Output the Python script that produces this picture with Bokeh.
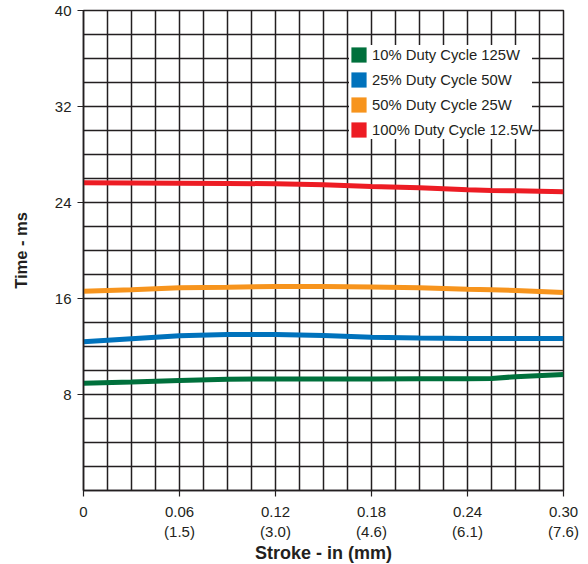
from bokeh.plotting import figure
from bokeh.models import Legend, LegendItem, FixedTicker, SingleIntervalTicker, Range1d
from bokeh.embed import file_html
from bokeh.resources import INLINE

# ---- data ----
stroke_in = [0, 0.03, 0.06, 0.09, 0.12, 0.15, 0.18, 0.21, 0.24, 0.255, 0.27, 0.30]
time_10 = [8.94, 9.05, 9.17, 9.27, 9.30, 9.30, 9.30, 9.31, 9.32, 9.34, 9.48, 9.67]
time_25 = [12.39, 12.64, 12.89, 13.0, 13.0, 12.92, 12.78, 12.70, 12.67, 12.67, 12.67, 12.67]
time_50 = [16.60, 16.72, 16.89, 16.94, 17.0, 17.0, 16.95, 16.89, 16.78, 16.73, 16.67, 16.50]
time_100 = [25.64, 25.63, 25.61, 25.59, 25.56, 25.47, 25.33, 25.22, 25.06, 25.01, 24.97, 24.89]

series_labels = ["10% Duty Cycle 125W", "25% Duty Cycle 50W",
                 "50% Duty Cycle 25W", "100% Duty Cycle 12.5W"]
series_colors = ["#00703c", "#0072bc", "#f7941d", "#ed1c24"]

x_ticks = [0, 0.06, 0.12, 0.18, 0.24, 0.30]
x_tick_labels = ["0", "0.06\n(1.5)", "0.12\n(3.0)", "0.18\n(4.6)", "0.24\n(6.1)", "0.30\n(7.6)"]
y_ticks = [8, 16, 24, 32, 40]
y_tick_labels = ["8", "16", "24", "32", "40"]
x_grid_step = 0.015
y_grid_step = 2
x_lim = (0, 0.30)
y_lim = (0, 40)

INK = "#231f20"
FONT = "Liberation Sans"

p = figure(frame_width=480, frame_height=480, output_backend="svg", toolbar_location=None,
           x_range=Range1d(*x_lim), y_range=Range1d(*y_lim),
           min_border_left=83, min_border_right=17, min_border_top=10, min_border_bottom=68)
p.background_fill_color = "white"
p.border_fill_color = "white"
p.outline_line_color = INK
p.outline_line_width = 1.5

# grids
p.xgrid.ticker = SingleIntervalTicker(interval=x_grid_step)
p.ygrid.ticker = SingleIntervalTicker(interval=y_grid_step)
for g in (p.xgrid, p.ygrid):
    g.grid_line_color = INK
    g.grid_line_width = 1.5
    g.grid_line_alpha = 1.0

# axes
p.xaxis.ticker = FixedTicker(ticks=x_ticks)
p.xaxis.major_label_overrides = {t: l for t, l in zip(x_ticks, x_tick_labels)}
p.yaxis.ticker = FixedTicker(ticks=y_ticks)
p.yaxis.major_label_overrides = {t: l for t, l in zip(y_ticks, y_tick_labels)}
for ax in (p.xaxis, p.yaxis):
    ax.axis_line_color = INK
    ax.axis_line_width = 1.5
    ax.major_tick_line_color = INK
    ax.major_tick_line_width = 1.2
    ax.major_tick_out = 6
    ax.major_tick_in = 0
    ax.minor_tick_line_color = None
    ax.major_label_text_font = FONT
    ax.major_label_text_font_size = "15px"
    ax.major_label_text_color = INK
    ax.axis_label_text_font = FONT
    ax.axis_label_text_font_style = "bold"
    ax.axis_label_text_color = INK
p.xaxis.major_label_standoff = 6
p.yaxis.major_label_standoff = 6
p.xaxis.axis_label = "Stroke - in (mm)"
p.xaxis.axis_label_text_font_size = "18px"
p.xaxis.axis_label_standoff = 0
p.yaxis.axis_label = "Time - ms"
p.yaxis.axis_label_text_font_size = "16.5px"
p.yaxis.axis_label_standoff = 22

# lines
for ys, c in zip([time_10, time_25, time_50, time_100], series_colors):
    p.line(stroke_in, ys, line_color=c, line_width=5)

# legend (square swatches from zero-size quads on the series data)
items = []
for ys, lab, c in zip([time_10, time_25, time_50, time_100], series_labels, series_colors):
    r = p.quad(left=stroke_in, right=stroke_in, top=ys, bottom=ys,
               fill_color=c, fill_alpha=1.0, line_color=None)
    items.append(LegendItem(label=lab, renderers=[r]))

legend = Legend(items=items, location=(266, 351), margin=0,
                glyph_width=19, glyph_height=19, label_height=18, label_standoff=4,
                spacing=6, padding=8,
                label_text_font=FONT, label_text_font_size="14.8px", label_text_color=INK,
                background_fill_color="white", background_fill_alpha=1.0,
                border_line_color=None)
p.add_layout(legend, "center")

open("out.html", "w").write(file_html(p, INLINE))
